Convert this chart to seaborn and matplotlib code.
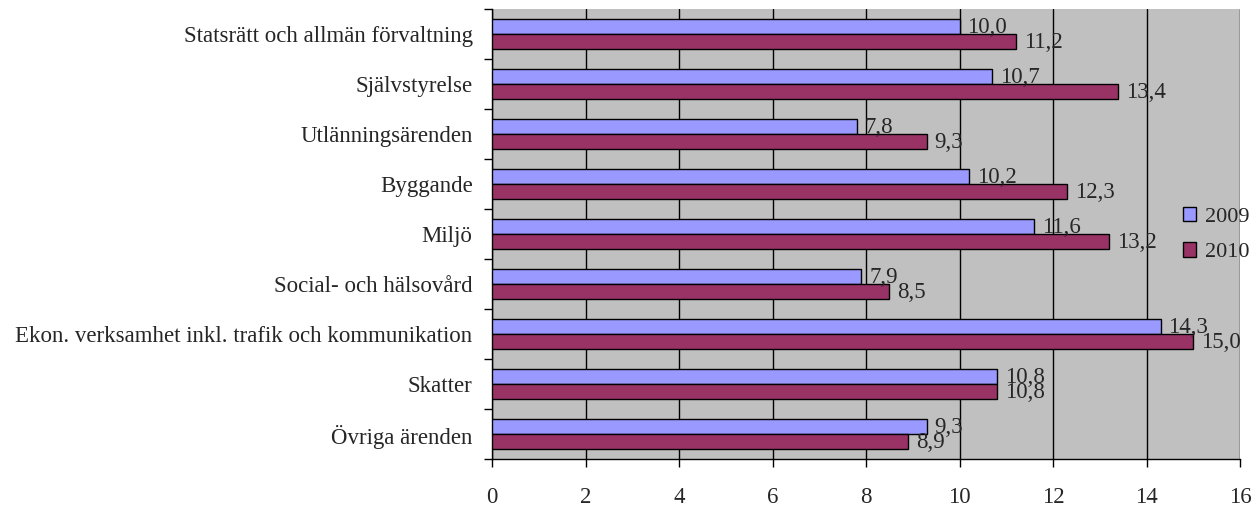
import matplotlib
matplotlib.use("Agg")
import matplotlib.pyplot as plt
import seaborn as sns
import pandas as pd
from matplotlib.ticker import FixedLocator

categories = [
    "Statsrätt och allmän förvaltning",
    "Självstyrelse",
    "Utlänningsärenden",
    "Byggande",
    "Miljö",
    "Social- och hälsovård",
    "Ekon. verksamhet inkl. trafik och kommunikation",
    "Skatter",
    "Övriga ärenden",
]
values_2009 = [10.0, 10.7, 7.8, 10.2, 11.6, 7.9, 14.3, 10.8, 9.3]
values_2010 = [11.2, 13.4, 9.3, 12.3, 13.2, 8.5, 15.0, 10.8, 8.9]
years = ["2009", "2010"]
colors = ["#9999FF", "#993366"]
x_ticks = [0, 2, 4, 6, 8, 10, 12, 14, 16]

df = pd.DataFrame({
    "Kategori": categories * 2,
    "Värde": values_2009 + values_2010,
    "År": [years[0]] * len(categories) + [years[1]] * len(categories),
})

sns.set_style("white")
plt.rcParams["font.family"] = ["Liberation Serif", "DejaVu Serif"]

FS = 16.5

fig = plt.figure(figsize=(12.56, 5.11), dpi=100)
ax = fig.add_axes([492 / 1256, 1 - 459 / 511, (1240 - 492) / 1256, (459 - 9) / 511])

sns.barplot(data=df, y="Kategori", x="Värde", hue="År", orient="h",
            palette=colors, saturation=1, width=0.6, edgecolor="black",
            linewidth=1.0, order=categories, hue_order=years, ax=ax, zorder=3)

ax.set_facecolor("#C0C0C0")
ax.set_xlim(0, 16)
ax.xaxis.set_major_locator(FixedLocator(x_ticks))
ax.set_xticklabels([str(t) for t in x_ticks])
ax.grid(axis="x", color="black", linewidth=1.0, zorder=0)
ax.set_axisbelow(True)
ax.set_xlabel("")
ax.set_ylabel("")

for s in ["top", "right"]:
    ax.spines[s].set_visible(False)
for s in ["left", "bottom"]:
    ax.spines[s].set_color("black")
    ax.spines[s].set_linewidth(1.0)

ax.tick_params(axis="x", direction="out", length=6, width=1, color="black",
               labelsize=FS, pad=14, bottom=True)
ax.tick_params(axis="y", which="major", length=0, labelsize=FS, pad=14)
ax.yaxis.set_minor_locator(FixedLocator([i - 0.5 for i in range(len(categories) + 1)]))
ax.tick_params(axis="y", which="minor", direction="out", length=6, width=1,
               color="black", left=True)

for cont in ax.containers:
    for rect in cont:
        w = rect.get_width()
        ax.text(w + 0.17, rect.get_y() + rect.get_height() / 2 + 0.02,
                f"{w:.1f}".replace(".", ","), va="center", ha="left",
                fontsize=FS, zorder=5)

leg = ax.legend(loc="center left", bbox_to_anchor=(1183 / 1256, 1 - 234.5 / 511),
                bbox_transform=fig.transFigure, borderaxespad=0, borderpad=0,
                frameon=False, fontsize=16, handlelength=0.58, handleheight=0.6,
                handletextpad=0.42, labelspacing=0.72)
for h in leg.legend_handles:
    h.set_edgecolor("black")
    h.set_linewidth(1.0)

fig.savefig("out.png", dpi=100)
